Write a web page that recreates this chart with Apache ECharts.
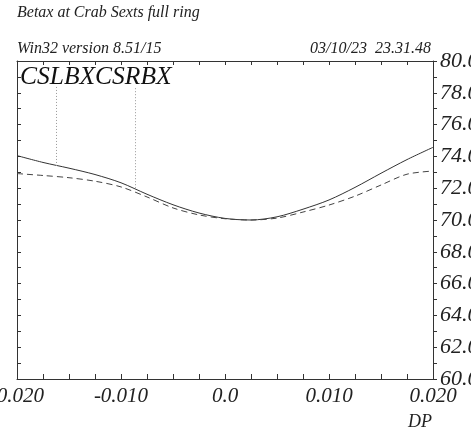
<!DOCTYPE html>
<html>
<head>
<meta charset="utf-8">
<script src="https://cdn.jsdelivr.net/npm/echarts@6/dist/echarts.min.js"></script>
<style>
  html, body { margin: 0; padding: 0; background: #fff; }
  #chart { width: 471px; height: 433px; }
</style>
</head>
<body>
<div id="chart"></div>
<script>
// Momentum deviation DP sampled across the scan
const dp = [-0.020, -0.0175, -0.015, -0.0125, -0.010, -0.0075, -0.005, -0.0025, 0.0,
            0.0025, 0.005, 0.0075, 0.010, 0.0125, 0.015, 0.0175, 0.020];
// Beta-x at the two crab sextupoles
const betaxLeft  = [74.05, 73.62, 73.26, 72.86, 72.34, 71.62, 70.96, 70.44, 70.10,
                    70.00, 70.20, 70.68, 71.26, 72.05, 72.94, 73.80, 74.57];
const betaxRight = [72.92, 72.80, 72.66, 72.44, 72.08, 71.45, 70.76, 70.32, 70.08,
                    70.00, 70.12, 70.50, 70.94, 71.50, 72.20, 72.88, 73.08];
// Element markers: name, DP position, start value on the curve, end value near the top
const markerNames = ['CSLBX', 'CSRBX'];
const markerDP = [-0.0162, -0.00865];
const markerFrom = [73.40, 72.00];
const markerTo = [78.4, 78.4];
// Axis labels
const xTickLabels = { '-0.02': '-0.020', '-0.01': '-0.010', '0': '0.0', '0.01': '0.010', '0.02': '0.020' };

const serif = '"Liberation Serif", "DejaVu Serif", serif';
const toPairs = (xs, ys) => xs.map((x, i) => [x, ys[i]]);

const chart = echarts.init(document.getElementById('chart'), null, { renderer: 'canvas' });

function xLabel(v) {
  const k = Math.round(v * 1000) / 1000;
  if (Math.abs(k * 100 - Math.round(k * 100)) > 1e-6) return '';
  const key = String(Math.round(k * 100) / 100);
  return xTickLabels[key] !== undefined ? '{t|' + xTickLabels[key] + '}' : '';
}
function yLabel(v) {
  return Math.round(v) % 2 === 0 ? '{t|' + v.toFixed(1) + '}' : '';
}

const xRich = { t: { color: '#222', fontFamily: serif, fontStyle: 'italic', fontSize: 21 } };
const yRich = { t: { color: '#222', fontFamily: serif, fontStyle: 'italic', fontSize: 22 } };

const option = {
  animation: false,
  backgroundColor: '#fff',
  grid: { left: 17, right: 38, top: 61, bottom: 54, containLabel: false, outerBoundsMode: 'none' },
  graphic: [
    { type: 'text', left: 17, top: 5,
      style: { text: 'Betax at Crab Sexts full ring', font: 'italic 16px ' + serif, fill: '#222' } },
    { type: 'text', left: 17, top: 41,
      style: { text: 'Win32 version 8.51/15', font: 'italic 16px ' + serif, fill: '#222' } },
    { type: 'text', right: 40, top: 41,
      style: { text: '03/10/23  23.31.48', font: 'italic 16px ' + serif, fill: '#222' } },
    { type: 'text', left: 20, top: 64,
      style: { text: markerNames.join(''), font: 'italic 25.5px ' + serif, fill: '#111' } },
    { type: 'text', right: 39, top: 413,
      style: { text: 'DP', font: 'italic 18px ' + serif, fill: '#222' } }
  ],
  xAxis: [
    {
      type: 'value', position: 'bottom', min: -0.02, max: 0.02, interval: 0.0025,
      axisLine: { show: true, onZero: false, lineStyle: { color: '#333', width: 1 } },
      axisTick: { show: true, inside: true, length: 5, lineStyle: { color: '#333' } },
      splitLine: { show: false },
      axisLabel: { formatter: xLabel, margin: 7, hideOverlap: false, rich: xRich }
    },
    {
      type: 'value', position: 'top', min: -0.02, max: 0.02, interval: 0.0025,
      axisLine: { show: true, onZero: false, lineStyle: { color: '#333', width: 1 } },
      axisTick: { show: true, inside: true, length: 4, lineStyle: { color: '#333' } },
      splitLine: { show: false },
      axisLabel: { show: false }
    }
  ],
  yAxis: [
    {
      type: 'value', position: 'right', min: 60, max: 80, interval: 1,
      axisLine: { show: true, onZero: false, lineStyle: { color: '#333', width: 1 } },
      axisTick: { show: true, inside: false, length: 4, lineStyle: { color: '#333' } },
      splitLine: { show: false },
      axisLabel: { formatter: yLabel, margin: 7, rich: yRich }
    },
    {
      type: 'value', position: 'left', min: 60, max: 80, interval: 1,
      axisLine: { show: true, onZero: false, lineStyle: { color: '#333', width: 1 } },
      axisTick: { show: true, inside: true, length: 4, lineStyle: { color: '#333' } },
      splitLine: { show: false },
      axisLabel: { show: false }
    }
  ],
  series: [
    {
      name: 'CSLBX', type: 'line', xAxisIndex: 0, yAxisIndex: 0,
      data: toPairs(dp, betaxLeft), smooth: 0.3, symbol: 'none',
      lineStyle: { color: '#333', width: 1 },
      markLine: {
        silent: true, symbol: ['none', 'none'], label: { show: false },
        lineStyle: { color: '#999', width: 1, type: [1, 2] },
        data: markerDP.map((x, i) => [{ coord: [x, markerFrom[i]] }, { coord: [x, markerTo[i]] }])
      }
    },
    {
      name: 'CSRBX', type: 'line', xAxisIndex: 0, yAxisIndex: 0,
      data: toPairs(dp, betaxRight), smooth: 0.3, symbol: 'none',
      lineStyle: { color: '#444', width: 1, type: [6, 4] }
    }
  ]
};

chart.setOption(option);
</script>
</body>
</html>
